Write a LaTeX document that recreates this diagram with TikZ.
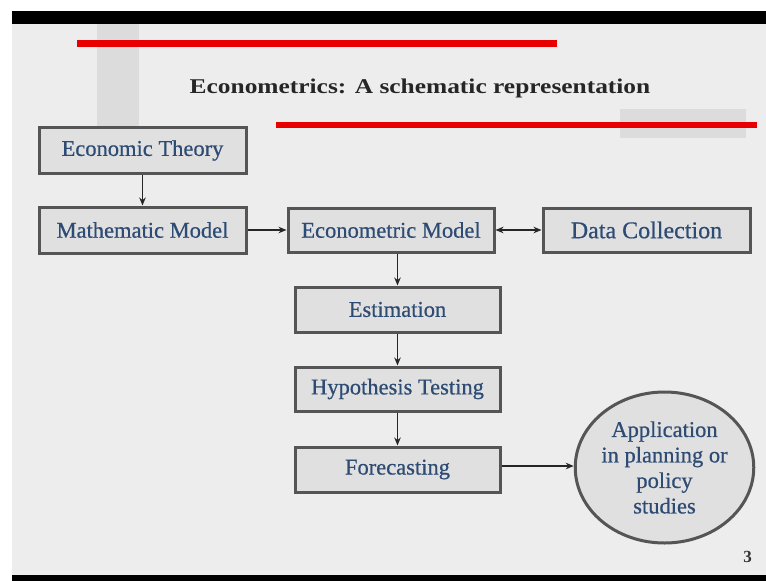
\documentclass[tikz,border=0pt]{standalone}
\usepackage{fontspec}
\setmainfont{Liberation Serif}
\newfontfamily\titlefont[FakeStretch=1.21]{Liberation Serif}
\newfontfamily\boxfont[FakeBold=0.6]{Liberation Serif}
\usetikzlibrary{arrows.meta,shapes.geometric}
\definecolor{slidebg}{HTML}{EDEDED}
\definecolor{boxfill}{HTML}{E0E0E0}
\definecolor{boxline}{HTML}{555555}
\definecolor{txtblue}{RGB}{45,75,115}
\definecolor{redline}{HTML}{E80000}
\definecolor{deco}{HTML}{DCDCDC}
\tikzset{
  box/.style={draw=boxline, line width=3pt, fill=boxfill, text=txtblue,
    minimum width=205pt, minimum height=45pt, inner sep=0pt,
    font=\boxfont\fontsize{22.5}{25}\selectfont},
  arr/.style={draw=black!85, line width=1.8pt, -{Stealth[length=8pt,width=6.5pt]}},
  darr/.style={draw=black!85, line width=1.8pt, {Stealth[length=8pt,width=6.5pt]}-{Stealth[length=8pt,width=6.5pt]}},
}
\begin{document}
\begin{tikzpicture}[x=1pt,y=-1pt]
\useasboundingbox (0,0) rectangle (766,581);
\fill[white] (0,0) rectangle (766,581);
% slide
\fill[slidebg] (12,24) rectangle (766,575);
\fill[black] (12,11) rectangle (766,24);
\fill[black] (12,575) rectangle (766,581);
% decorative blocks
\fill[deco] (97,24) rectangle (139,127);
\fill[deco] (620,109) rectangle (746,138);
% red lines
\fill[redline] (77,40) rectangle (557,46.5);
\fill[redline] (276,121.5) rectangle (757,128);
% title
\node[anchor=base, font=\titlefont\bfseries\fontsize{21}{24}\selectfont, text=black!85] (title) at (420,93.5) {Econometrics: A schematic representation};
% boxes
\node[box, minimum width=207pt, minimum height=46pt] (et) at (142.5,150.5) {Economic Theory};
\node[box, minimum width=207pt, minimum height=46pt] (mm) at (142.5,230) {Mathematic Model};
\node[box, minimum width=206pt, minimum height=44pt] (em) at (391,230) {Econometric Model};
\node[box, minimum width=207pt, minimum height=44pt, font=\boxfont\fontsize{24}{26}\selectfont] (dc) at (646.5,230) {Data Collection};
\node[box] (est) at (397.5,309.5) {Estimation};
\node[box, minimum height=44pt] (ht) at (397.5,389) {Hypothesis Testing};
\node[box] (fc) at (397.5,469.5) {Forecasting};
\node[ellipse, draw=boxline, line width=3pt, fill=boxfill, text=txtblue,
  minimum width=166pt, minimum height=151pt, inner sep=0pt, align=center,
  font=\boxfont\fontsize{22.5}{25.5}\selectfont] (app) at (664.5,467.5)
  {Application\\in planning or\\policy\\studies};
% page number
\node[font=\bfseries\fontsize{17}{17}\selectfont, text=black!80] (pg) at (747.5,557) {3};
% connectors
\draw[arr] (et) -- (mm);
\draw[arr] (mm) -- (em);
\draw[darr] (em) -- (dc);
\draw[arr] (est.north |- em.south) -- (est.north);
\draw[arr] (est) -- (ht);
\draw[arr] (ht) -- (fc);
\draw[arr] (fc.east |- 0,466) -- (app.west |- 0,466);
\end{tikzpicture}
\end{document}
